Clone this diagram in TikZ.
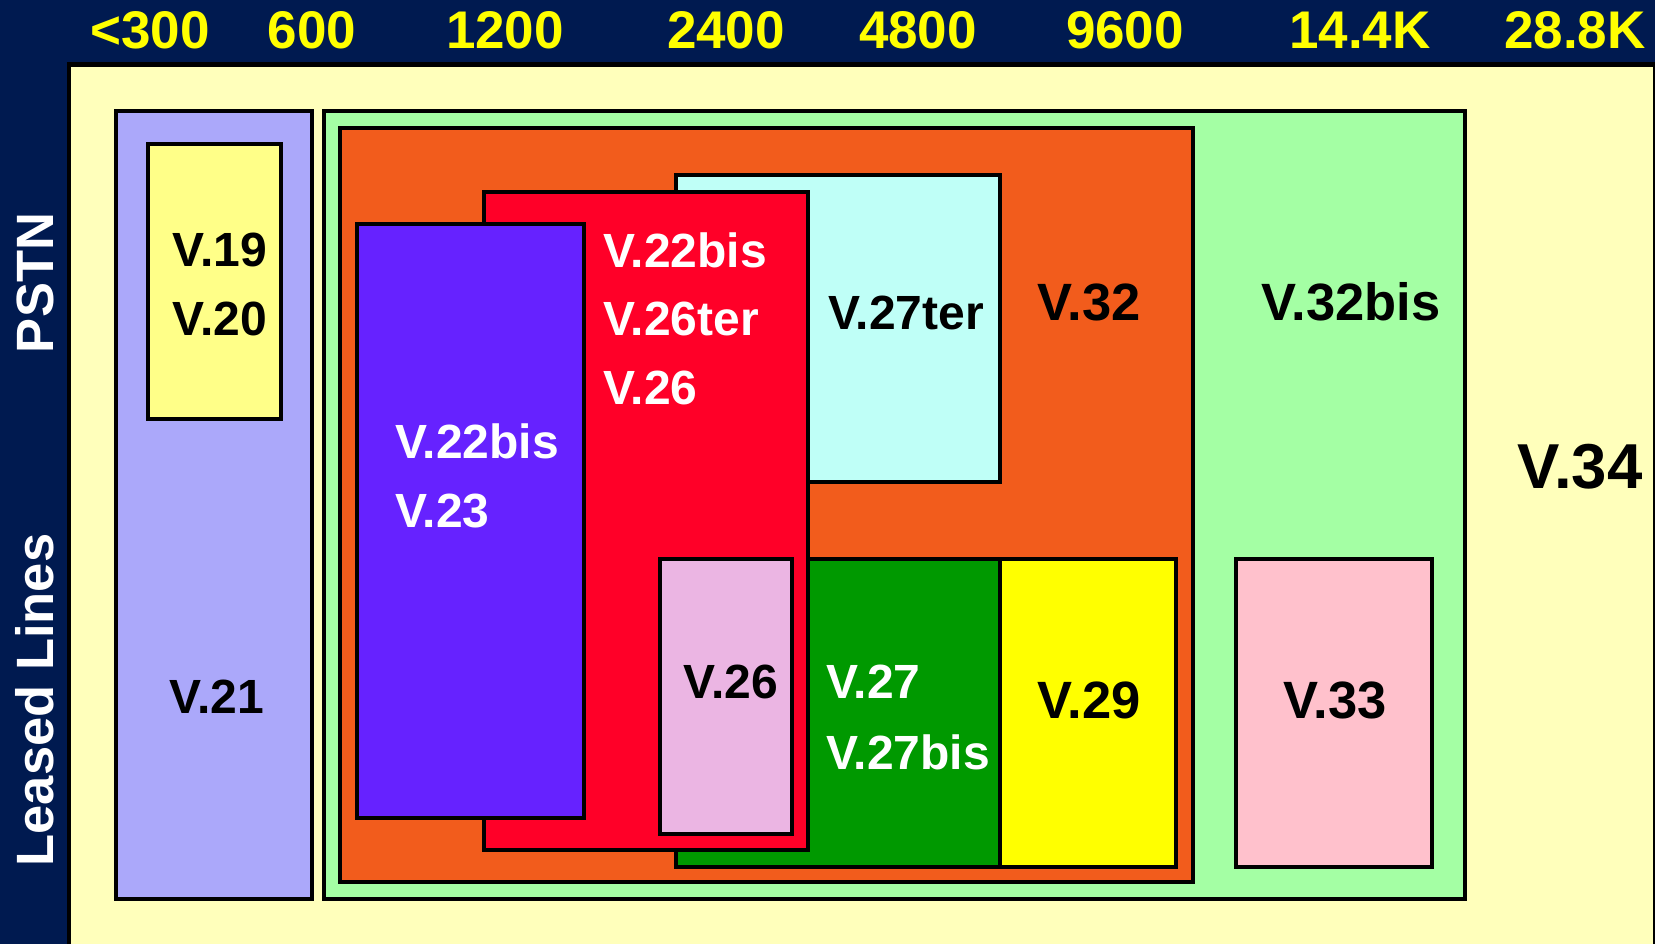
\documentclass[tikz,border=0pt]{standalone}
\usepackage{fontspec}
\setmainfont{Liberation Sans}
\definecolor{navy}{HTML}{001A50}
\definecolor{paleyel}{HTML}{FFFFBB}
\definecolor{lavend}{HTML}{ABA8FA}
\definecolor{softyel}{HTML}{FFFF88}
\definecolor{mint}{HTML}{A4FFA4}
\definecolor{rust}{HTML}{F25C1C}
\definecolor{ice}{HTML}{BFFFF7}
\definecolor{scarlet}{HTML}{FF0028}
\definecolor{violet}{HTML}{6622FF}
\definecolor{orchid}{HTML}{EBB5E3}
\definecolor{leaf}{HTML}{009900}
\definecolor{lemon}{HTML}{FFFF00}
\definecolor{blush}{HTML}{FFC1CC}
\begin{document}
\begin{tikzpicture}[x=1pt,y=-1pt,
  box/.style={draw=black,line width=4.5pt},
  lbl/.style={inner sep=0pt,font=\fontsize{48}{56}\selectfont\bfseries},
  big/.style={inner sep=0pt,font=\fontsize{52.5}{60}\selectfont\bfseries},
  rate/.style={inner sep=0pt,text=lemon,font=\fontsize{53}{60}\selectfont\bfseries},
  side/.style={inner sep=0pt,text=white,rotate=90,font=\fontsize{52.5}{60}\selectfont\bfseries}]
  \clip (0,0) rectangle (1655,944);
  \fill[navy] (0,0) rectangle (1655,944);
  % line rates along the top
  \node[rate] (r300)  at (150,30)  {<300};
  \node[rate] (r600)  at (312,30)  {600};
  \node[rate] (r1200) at (505,30)  {1200};
  \node[rate] (r2400) at (726,30)  {2400};
  \node[rate] (r4800) at (918,30)  {4800};
  \node[rate] (r9600) at (1125,30) {9600};
  \node[rate] (r14k)  at (1360,30) {14.4K};
  \node[rate] (r28k)  at (1575,30) {28.8K};
  \node[side] (pstn)   at (35,283) {PSTN};
  \node[side] (leased) at (35,700) {Leased Lines};
  % nested recommendation boxes (back to front)
  \draw[box,fill=paleyel] (69,64.5) rectangle (1655,990);
  \draw[box,fill=lavend]  (116,111) rectangle (312,899);
  \draw[box,fill=softyel] (148,144) rectangle (281,419);
  \draw[box,fill=mint]    (324,111) rectangle (1465,899);
  \draw[box,fill=rust]    (340,128) rectangle (1193,882);
  \draw[box,fill=ice]     (676,175) rectangle (1000,482);
  \draw[box,fill=leaf]    (676,559) rectangle (1000,867);
  \draw[box,fill=lemon]   (1000,559) rectangle (1176,867);
  \draw[box,fill=scarlet] (484,192) rectangle (808,850);
  \draw[box,fill=violet]  (357,224) rectangle (584,818);
  \draw[box,fill=orchid]  (660,559) rectangle (792,834);
  \draw[box,fill=blush]   (1236,559) rectangle (1432,867);
  % labels
  \node[lbl] (v19) at (220,250) {V.19};
  \node[lbl] (v20) at (220,319) {V.20};
  \node[lbl] (v21) at (217,697) {V.21};
  \node[lbl,text=white,anchor=west] (v22p) at (395,441) {V.22bis};
  \node[lbl,text=white,anchor=west] (v23)  at (395,511) {V.23};
  \node[lbl,text=white,anchor=west] (v22r) at (603,250) {V.22bis};
  \node[lbl,text=white,anchor=west] (v26t) at (603,319) {V.26ter};
  \node[lbl,text=white,anchor=west] (v26r) at (603,388) {V.26};
  \node[lbl] (v27t) at (906,313) {V.27ter};
  \node[big] (v32)  at (1089,302) {V.32};
  \node[big] (v32b) at (1351,302) {V.32bis};
  \node[inner sep=0pt,font=\fontsize{63.5}{70}\selectfont\bfseries] (v34) at (1580,467) {V.34};
  \node[lbl] (v26) at (731,682) {V.26};
  \node[lbl,text=white,anchor=west] (v27)  at (826,682) {V.27};
  \node[lbl,text=white,anchor=west] (v27b) at (826,752) {V.27bis};
  \node[big] (v29) at (1089,700) {V.29};
  \node[big] (v33) at (1335,700) {V.33};
\end{tikzpicture}
\end{document}
